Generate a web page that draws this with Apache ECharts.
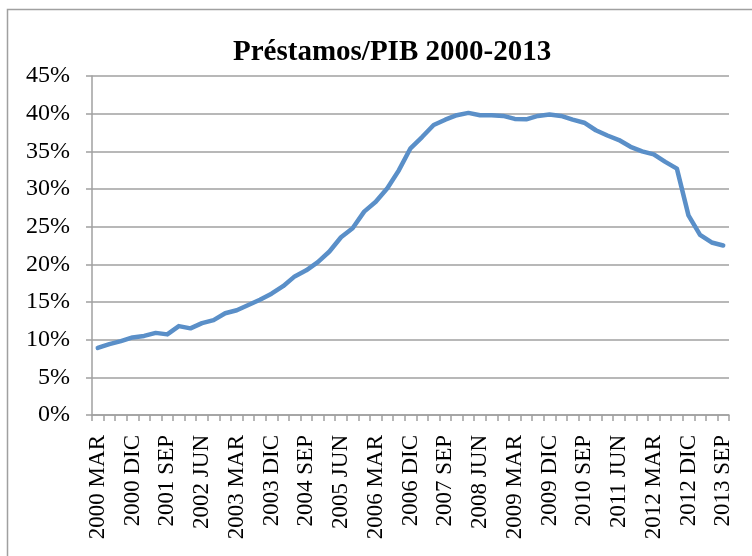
<!DOCTYPE html>
<html>
<head>
<meta charset="utf-8">
<script src="https://cdn.jsdelivr.net/npm/echarts@6/dist/echarts.min.js"></script>
<style>
  html, body { margin: 0; padding: 0; background: #fff; }
  #chart { width: 752px; height: 556px; }
</style>
</head>
<body>
<div id="chart"></div>
<script>
  // trimestres 2000 MAR .. 2013 SEP
  const years = [2000, 2001, 2002, 2003, 2004, 2005, 2006, 2007, 2008, 2009, 2010, 2011, 2012, 2013];
  const months = ['MAR', 'JUN', 'SEP', 'DIC'];
  const categories = [];
  years.forEach(y => months.forEach(m => {
    if (!(y === 2013 && m === 'DIC')) categories.push(y + ' ' + m);
  }));

  // préstamos / PIB, %
  const ratio = [
    8.9, 9.4, 9.8, 10.3, 10.5, 10.9, 10.7, 11.8, 11.5, 12.2,
    12.6, 13.5, 13.9, 14.6, 15.3, 16.1, 17.1, 18.4, 19.2, 20.3,
    21.7, 23.6, 24.8, 27.0, 28.3, 30.1, 32.5, 35.4, 36.9, 38.5,
    39.2, 39.8, 40.1, 39.8, 39.8, 39.7, 39.3, 39.25, 39.7, 39.9,
    39.7, 39.2, 38.8, 37.8, 37.1, 36.5, 35.6, 35.0, 34.6, 33.6,
    32.7, 26.5, 23.9, 22.9, 22.5
  ];

  const font = 'Liberation Serif, Times New Roman, serif';
  const gray = '#a0a0a0';

  let chart = echarts.init(document.getElementById('chart'));
  chart.setOption({
    animation: false,
    graphic: [{
      type: 'rect',
      shape: { x: 7.5, y: 9.5, width: 800, height: 600 },
      style: { fill: 'none', stroke: gray, lineWidth: 1.5 },
      silent: true
    }],
    title: {
      text: 'Préstamos/PIB 2000-2013',
      left: 228,
      top: 33,
      textStyle: { fontFamily: font, fontSize: 29, fontWeight: 'bold', color: '#000' }
    },
    grid: { left: 92, right: 23, top: 76, bottom: 141 },
    xAxis: {
      type: 'category',
      data: categories,
      boundaryGap: true,
      axisLine: { lineStyle: { color: gray, width: 1.5 } },
      axisTick: { show: true, interval: 0, length: 6, lineStyle: { color: gray, width: 1.5 } },
      axisLabel: {
        interval: 2,
        rotate: 90,
        margin: 20,
        color: '#000',
        fontFamily: font,
        fontSize: 23
      },
      splitLine: { show: false }
    },
    yAxis: {
      type: 'value',
      min: 0,
      max: 45,
      interval: 5,
      axisLine: { show: true, lineStyle: { color: gray, width: 1.5 } },
      axisTick: { show: true, length: 6, lineStyle: { color: gray, width: 1.5 } },
      axisLabel: {
        margin: 22,
        color: '#000',
        fontFamily: font,
        fontSize: 24,
        formatter: '{value}%'
      },
      splitLine: { lineStyle: { color: gray, width: 1.5 } }
    },
    series: [{
      type: 'line',
      data: ratio,
      symbol: 'none',
      lineStyle: { color: '#5a8fc8', width: 4.5, join: 'round', cap: 'round' }
    }]
  });
</script>
</body>
</html>
